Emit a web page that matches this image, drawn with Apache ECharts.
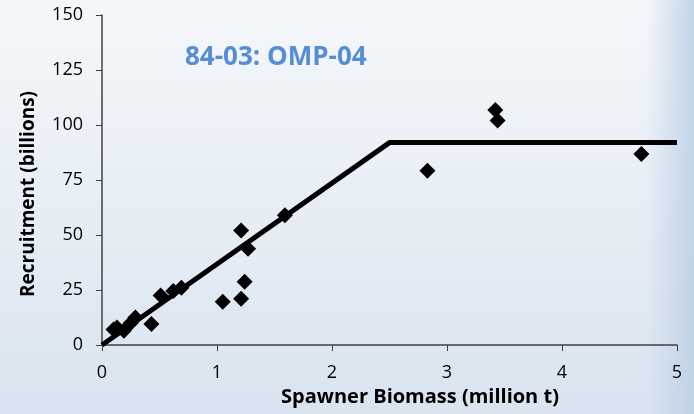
<!DOCTYPE html>
<html>
<head>
<meta charset="utf-8">
<script src="https://cdn.jsdelivr.net/npm/echarts@6/dist/echarts.min.js"></script>
<style>
html,body{margin:0;padding:0;}
#c{width:694px;height:414px;}
</style>
</head>
<body>
<div id="c"></div>
<script>
// Observed stock-recruitment points
var biomass = [0.10, 0.13, 0.19, 0.25, 0.29, 0.43, 0.51, 0.62, 0.69, 1.05, 1.21, 1.21, 1.24, 1.27, 1.59, 2.83, 3.42, 3.44, 4.69];
var recruits = [7.0, 8.0, 6.5, 10.0, 12.5, 9.5, 22.5, 24.5, 26.0, 19.7, 52.0, 21.0, 28.7, 43.8, 59.0, 79.2, 106.8, 102.0, 86.8];
// Hockey-stick fit
var fitX = [0, 2.5, 5];
var fitY = [0, 92, 92];

var title = '84-03: OMP-04';
var xName = 'Spawner Biomass (million t)';
var yName = 'Recruitment (billions)';

var FONT = 'Open Sans';
var chart = echarts.init(document.getElementById('c'));
var pts = biomass.map(function(b, i){ return [b, recruits[i]]; });
var fit = fitX.map(function(b, i){ return [b, fitY[i]]; });

chart.setOption({
  animation: false,
  graphic: [
    {type:'rect', z:-10, silent:true, shape:{x:0,y:0,width:694,height:414},
     style:{fill:new echarts.graphic.LinearGradient(0,0,0,1,[{offset:0,color:'#f5f8fb'},{offset:1,color:'#d9e4f0'}])}},
    {type:'rect', z:-9, silent:true, shape:{x:645,y:0,width:49,height:414},
     style:{fill:new echarts.graphic.LinearGradient(0,0,1,0,[{offset:0,color:'rgba(190,208,230,0)'},{offset:1,color:'rgba(190,208,230,0.9)'}])}},
    {type:'text', z:10, silent:true, x:29, y:194, rotation:Math.PI/2,
     style:{text:yName, align:'center', verticalAlign:'middle', fill:'#000',
            font:'bold 19px "Open Sans"'}}
  ],
  title: {
    text: title, left: 180, top: 40,
    textStyle: {fontFamily: FONT, fontWeight: 'bold', fontSize: 26, color: '#558ed5'}
  },
  grid: {left: 102, right: 17, top: 15, bottom: 69},
  xAxis: {
    type: 'value', min: 0, max: 5, interval: 1,
    name: xName, nameLocation: 'middle', nameGap: 41,
    nameTextStyle: {fontFamily: FONT, fontWeight: 'bold', fontSize: 20, color: '#000', padding: [0, 0, 0, 61]},
    axisLine: {lineStyle: {color: '#404040', width: 1.5}},
    axisTick: {show: true, length: 6, lineStyle: {color: '#404040'}},
    axisLabel: {fontFamily: FONT, fontSize: 18, color: '#000', margin: 19},
    splitLine: {show: false}
  },
  yAxis: {
    type: 'value', min: 0, max: 150, interval: 25,
    axisLine: {show: true, lineStyle: {color: '#404040', width: 1.5}},
    axisTick: {show: true, length: 6, lineStyle: {color: '#404040'}},
    axisLabel: {fontFamily: FONT, fontSize: 18, color: '#000', margin: 19},
    splitLine: {show: false}
  },
  series: [
    {type: 'line', data: fit, showSymbol: false, symbol: 'none', z: 2,
     lineStyle: {color: '#000', width: 5, join: 'round'}},
    {type: 'scatter', data: pts, symbol: 'diamond', symbolSize: 16, z: 3,
     itemStyle: {color: '#000', opacity: 1}}
  ]
});
</script>
</body>
</html>
